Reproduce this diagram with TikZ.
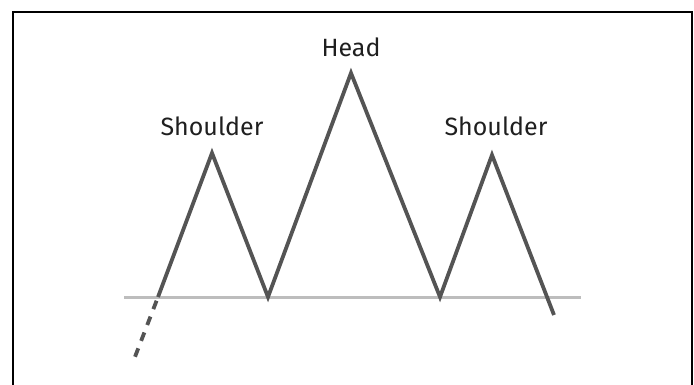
\documentclass[tikz,border=0pt]{standalone}
\usepackage{fontspec}
\setmainfont{Fira Sans}
\begin{document}
\begin{tikzpicture}[x=1pt,y=-1pt,
  frame/.style={draw=black,line width=1.5pt},
  neckline/.style={draw=black!26,line width=3pt},
  price/.style={draw=black!67,line width=3.8pt,line join=miter},
  lead/.style={draw=black!67,line width=3.8pt,dash pattern=on 9pt off 8pt,dash phase=-4pt},
  tag/.style={font=\fontsize{25}{28}\selectfont,text=black!88,inner sep=0pt}]
  \useasboundingbox (0,0) rectangle (694,384);
  \clip (0,0) rectangle (694,384);
  % outer frame, running past the lower edge
  \draw[frame] (13,12) rectangle (692,420);
  % key points of the pattern
  \coordinate (n0) at (124,297);
  \coordinate (n1) at (581,297);
  \coordinate (start) at (158,297);
  \coordinate (pre) at (133,362);
  \coordinate (ls) at (212,153);
  \coordinate (t1) at (268,297);
  \coordinate (hd) at (351,73);
  \coordinate (t2) at (440,297);
  \coordinate (rs) at (492,155);
  \coordinate (brk) at (554,315);
  % neckline
  \draw[neckline] (n0) -- (n1);
  % approach from below
  \draw[lead] (start) -- (pre);
  % price path
  \draw[price] (start) -- (ls) -- (t1) -- (hd) -- (t2) -- (rs) -- (brk);
  % labels
  \node[tag] (lab1) at (212,126) {Shoulder};
  \node[tag] (lab2) at (351,47) {Head};
  \node[tag] (lab3) at (496,126) {Shoulder};
\end{tikzpicture}
\end{document}
